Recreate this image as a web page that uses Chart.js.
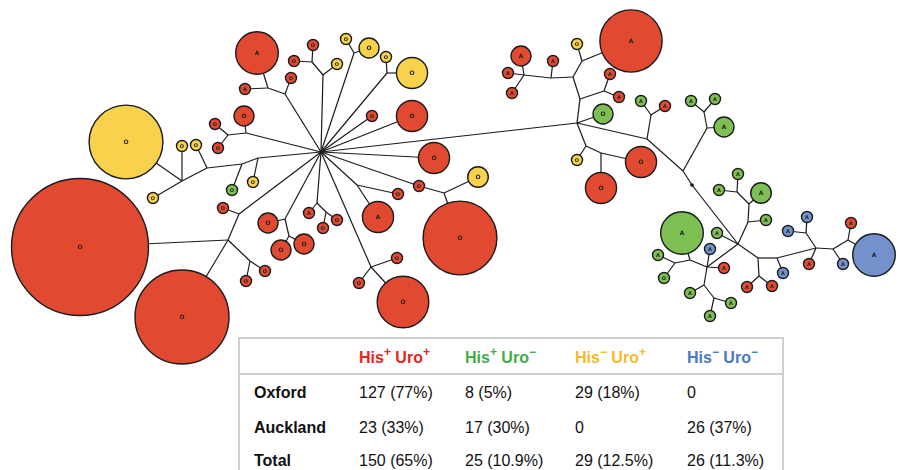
<!DOCTYPE html>
<html>
<head>
<meta charset="utf-8">
<script src="https://cdn.jsdelivr.net/npm/chart.js@4/dist/chart.umd.min.js"></script>
<style>
  body { margin: 0; background: #fff; }
  #wrap { position: absolute; left: 0; top: 0; width: 899px; height: 470px; overflow: hidden; }
  #chartBox { position: absolute; left: 0; top: 0; width: 899px; height: 470px; }
  #tbl { position: absolute; left: 238px; top: 337px; width: 542px; height: 140px;
         border: 2px solid #cfcfcf; border-bottom: none; background: #fff;
         font-family: "Liberation Sans", Arial, sans-serif; font-size: 16px; color: #111; }
  #tbl .sep { position: absolute; left: 0; right: 0; top: 34px; height: 0; border-top: 2px solid #cfcfcf; }
  #tbl .cell { position: absolute; white-space: nowrap; line-height: 20px; }
  #tbl .lab, #tbl .head { font-weight: bold; }
  #tbl sup { font-size: 12px; line-height: 0; position: relative; top: -1px; }
</style>
</head>
<body>
<div id="wrap">
  <div id="chartBox"><canvas id="treeChart"></canvas></div>
  <div id="tbl"></div>
</div>
<script>
// phenotype groups: 0 His+Uro+, 1 His+Uro-, 2 His-Uro+, 3 His-Uro-
const groupColors = ['#e14a30', '#7dbf52', '#f8d24c', '#7392cc'];

// nodes: [id, x, y, weight, group, label]  (layout units of the spanning tree)
const leftNodes = [
  ['L1', 257, 53, 15, 0, 'A'], ['L2', 245, 89, 1, 0, 'A'], ['L3', 291, 78, 1, 0, 'O'],
  ['L4', 313, 45, 1, 0, 'O'], ['L5', 294, 61, 1, 0, 'O'], ['L6', 337, 64, 1, 2, 'O'],
  ['L7', 346, 39, 1, 2, 'O'], ['L8', 369, 48, 3.3, 2, 'O'], ['L9', 386, 57, 1, 2, 'O'],
  ['L10', 412, 73, 8, 2, 'O'], ['L11', 372, 116, 1, 0, 'O'], ['L12', 412, 116, 8, 0, 'O'],
  ['L13', 434, 158, 8, 0, 'O'], ['L14', 419, 186, 1, 0, 'O'], ['L15', 460, 238, 45, 0, 'O'],
  ['L16', 478, 177, 3.5, 2, 'O'], ['L17', 398, 194, 1, 0, 'O'], ['L18', 378, 217, 8, 0, 'A'],
  ['L19', 309, 213, 1, 0, 'A'], ['L20', 323, 228, 1, 0, 'O'], ['L21', 337, 220, 1, 0, 'O'],
  ['L22', 268, 223, 3.3, 0, 'O'], ['L23', 281, 250, 3.3, 0, 'O'], ['L24', 304, 244, 3.3, 0, 'O'],
  ['L25', 397, 258, 1, 0, 'O'], ['L26', 359, 283, 1, 0, 'O'], ['L27', 403, 302, 22, 0, 'O'],
  ['L28', 244, 116, 3.3, 0, 'O'], ['L29', 215, 124, 1, 0, 'O'], ['L30', 218, 148, 1, 0, 'O'],
  ['L31', 253, 182, 1, 2, 'O'], ['L32', 232, 190, 1, 1, 'O'], ['L33', 196, 145, 1, 2, 'O'],
  ['L34', 182, 146, 1, 2, 'O'], ['L35', 126, 142, 45, 2, 'O'], ['L36', 153, 198, 1, 2, 'O'],
  ['L37', 223, 208, 1, 0, 'O'], ['L38', 80, 247, 155, 0, 'O'], ['L39', 246, 281, 1, 0, 'O'],
  ['L40', 265, 271, 1, 0, 'O'], ['L41', 182, 317, 73, 0, 'O']
];

const rightNodes = [
  ['R1', 631, 41, 32, 0, 'A'], ['R2', 577, 44, 1, 2, 'O'], ['R3', 553, 61, 1, 0, 'A'],
  ['R4', 521, 56, 3.3, 0, 'A'], ['R5', 508, 73, 1, 0, 'A'], ['R6', 512, 93, 1, 0, 'A'],
  ['R7', 610, 74, 1, 0, 'A'], ['R8', 619, 97, 1, 0, 'A'], ['R9', 603, 114, 3.3, 1, 'O'],
  ['R10', 577, 160, 1, 2, 'O'], ['R11', 641, 162, 8, 0, 'O'], ['R12', 601, 188, 8, 0, 'O'],
  ['R13', 641, 101, 1, 1, 'A'], ['R14', 665, 106, 1, 0, 'A'], ['R15', 724, 127, 3.3, 1, 'A'],
  ['R16', 691, 101, 1, 1, 'A'], ['R17', 715, 99, 1, 1, 'A'], ['R18', 766, 220, 1, 1, 'A'],
  ['R19', 761, 193, 3.5, 1, 'A'], ['R20', 719, 190, 1, 1, 'A'], ['R21', 738, 174, 1, 1, 'A'],
  ['R22', 717, 233, 1, 1, 'A'], ['R23', 710, 249, 1, 3, 'A'], ['R24', 724, 268, 1, 0, 'A'],
  ['R25', 682, 233, 15, 1, 'A'], ['R26', 658, 255, 1, 1, 'A'], ['R27', 664, 278, 1, 1, 'O'],
  ['R28', 690, 293, 1, 1, 'A'], ['R29', 731, 303, 1, 1, 'A'], ['R30', 710, 316, 1, 1, 'A'],
  ['R31', 747, 287, 1, 0, 'A'], ['R32', 772, 286, 1, 0, 'A'], ['R33', 783, 273, 1, 3, 'A'],
  ['R34', 788, 231, 1, 3, 'A'], ['R35', 807, 217, 1, 3, 'A'], ['R36', 809, 264, 1, 0, 'A'],
  ['R37', 843, 264, 1, 3, 'A'], ['R38', 851, 223, 1, 0, 'A'], ['R39', 874, 255, 15, 3, 'A']
];

// branch points of the tree: [id, x, y]
const junctions = [
  ['hub', 321, 152], ['j1', 268, 88], ['j2', 285, 94], ['j3', 312, 62], ['j4', 323, 75],
  ['j5', 354, 53], ['j6', 387, 73], ['j7', 444, 193], ['j8', 357, 185], ['j9', 317, 203],
  ['j10', 326, 212], ['j11', 285, 219], ['j12', 289, 236], ['j13', 371, 267], ['j14', 246, 133],
  ['j15', 228, 135], ['j16', 258, 158], ['j17', 242, 164], ['j18', 207, 168], ['j19', 182, 181],
  ['j20', 239, 214], ['j21', 228, 240], ['j22', 250, 261],
  ['r0', 577, 123], ['k1', 582, 61], ['k2', 573, 77], ['k3', 551, 78], ['k4', 524, 75],
  ['k5', 580, 99], ['k6', 604, 91], ['k7', 586, 146], ['k8', 601, 153], ['k9', 647, 139],
  ['k10', 651, 115], ['k11', 683, 171], ['k12', 707, 128], ['k13', 704, 112], ['dot', 692, 185],
  ['q', 738, 244], ['k14', 748, 222], ['k15', 749, 204], ['k20', 737, 192], ['k16', 707, 267],
  ['k17', 690, 260], ['k21', 675, 263], ['k19', 704, 285], ['k22', 714, 298], ['k18', 758, 258],
  ['k23', 759, 276], ['k24', 777, 258], ['k25', 816, 248], ['k26', 806, 233], ['k27', 833, 249],
  ['k28', 848, 240]
];

const edges = [
  ['L1', 'j1'], ['L2', 'j1'], ['j1', 'j2'], ['L3', 'j2'], ['j2', 'hub'],
  ['L4', 'j3'], ['L5', 'j3'], ['j3', 'j4'], ['L6', 'j4'], ['j4', 'hub'],
  ['L7', 'j5'], ['L8', 'j5'], ['j5', 'hub'], ['L9', 'j6'], ['L10', 'j6'], ['j6', 'hub'],
  ['hub', 'L11'], ['hub', 'L12'], ['hub', 'L13'], ['hub', 'L14'],
  ['L14', 'j7'], ['j7', 'L15'], ['j7', 'L16'], ['hub', 'r0'],
  ['hub', 'j8'], ['j8', 'L17'], ['j8', 'L18'],
  ['hub', 'j9'], ['j9', 'L19'], ['j9', 'j10'], ['j10', 'L20'], ['j10', 'L21'],
  ['hub', 'j11'], ['j11', 'L22'], ['j11', 'j12'], ['j12', 'L23'], ['j12', 'L24'],
  ['hub', 'j13'], ['j13', 'L25'], ['j13', 'L26'], ['j13', 'L27'],
  ['hub', 'j14'], ['j14', 'L28'], ['j14', 'j15'], ['j15', 'L29'], ['j15', 'L30'],
  ['hub', 'j16'], ['j16', 'L31'], ['j16', 'j17'], ['j17', 'L32'], ['j17', 'j18'],
  ['j18', 'L33'], ['j18', 'j19'], ['j19', 'L34'], ['j19', 'L35'], ['j19', 'L36'],
  ['hub', 'j20'], ['j20', 'L37'], ['j20', 'j21'], ['j21', 'L38'], ['j21', 'L41'],
  ['j21', 'j22'], ['j22', 'L39'], ['j22', 'L40'],
  ['r0', 'k5'], ['k5', 'k2'], ['k5', 'k6'], ['k6', 'R7'], ['k6', 'R8'],
  ['k2', 'k1'], ['k1', 'R2'], ['k1', 'R1'], ['k2', 'k3'], ['k3', 'R3'], ['k3', 'k4'],
  ['k4', 'R4'], ['k4', 'R5'], ['k4', 'R6'],
  ['r0', 'R9'], ['r0', 'k7'], ['k7', 'R10'], ['k7', 'k8'], ['k8', 'R11'], ['k8', 'R12'],
  ['r0', 'k9'], ['k9', 'k10'], ['k10', 'R13'], ['k10', 'R14'], ['k9', 'k11'],
  ['k11', 'k12'], ['k12', 'R15'], ['k12', 'k13'], ['k13', 'R16'], ['k13', 'R17'],
  ['k11', 'dot'], ['dot', 'q'],
  ['q', 'k14'], ['k14', 'R18'], ['k14', 'k15'], ['k15', 'R19'], ['k15', 'k20'],
  ['k20', 'R20'], ['k20', 'R21'], ['q', 'R22'],
  ['q', 'k16'], ['k16', 'R23'], ['k16', 'R24'], ['k16', 'k17'], ['k17', 'R25'],
  ['k17', 'k21'], ['k21', 'R26'], ['k21', 'R27'], ['k16', 'k19'], ['k19', 'R28'],
  ['k19', 'k22'], ['k22', 'R29'], ['k22', 'R30'],
  ['q', 'k18'], ['k18', 'k23'], ['k23', 'R31'], ['k23', 'R32'], ['k18', 'k24'],
  ['k24', 'R33'], ['k24', 'k25'], ['k25', 'k26'], ['k26', 'R34'], ['k26', 'R35'],
  ['k25', 'R36'], ['k25', 'k27'], ['k27', 'R37'], ['k27', 'k28'], ['k28', 'R38'], ['k28', 'R39']
];

const markers = ['dot'];

// table
const headerSigns = [['+', '+'], ['+', '\u2212'], ['\u2212', '+'], ['\u2212', '\u2212']];
const headerColors = ['#e8231d', '#3fae47', '#f7b82d', '#4a78c2'];
const rowLabels = ['Oxford', 'Auckland', 'Total'];
const oxfordValues = ['127 (77%)', '8 (5%)', '29 (18%)', '0'];
const aucklandValues = ['23 (33%)', '17 (30%)', '0', '26 (37%)'];
const totalValues = ['150 (65%)', '25 (10.9%)', '29 (12.5%)', '26 (11.3%)'];

function buildTable() {
    const tbl = document.getElementById('tbl');
    const colX = [14, 119, 225, 335, 447];
    const rowY = [44, 79, 112];
    let html = '<div class="sep"></div>';
    headerSigns.forEach((s, i) => {
        html += `<div class="cell head" style="left:${colX[i + 1]}px;top:9px;color:${headerColors[i]}">` +
            `His<sup>${s[0]}</sup> Uro<sup>${s[1]}</sup></div>`;
    });
    const rows = [oxfordValues, aucklandValues, totalValues];
    rows.forEach((vals, r) => {
        html += `<div class="cell lab" style="left:${colX[0]}px;top:${rowY[r]}px">${rowLabels[r]}</div>`;
        vals.forEach((v, c) => {
            html += `<div class="cell" style="left:${colX[c + 1]}px;top:${rowY[r]}px">${v}</div>`;
        });
    });
    tbl.innerHTML = html;
}

function drawTree() {
    const nodes = leftNodes.concat(rightNodes);
    const pos = {};
    nodes.forEach(n => { pos[n[0]] = {x: n[1], y: n[2]}; });
    junctions.forEach(j => { pos[j[0]] = {x: j[1], y: j[2]}; });

    const radius = w => 5.5 * Math.sqrt(w);

    const datasets = [];
    datasets.push({
        type: 'bubble',
        data: nodes.map(n => ({x: n[1], y: n[2], r: radius(n[3])})),
        backgroundColor: nodes.map(n => groupColors[n[4]]),
        borderColor: '#1b1b1b',
        borderWidth: 1.4,
        hoverRadius: 0,
        clip: false,
        order: 0
    });
    datasets.push({
        type: 'scatter',
        data: markers.map(id => pos[id]),
        pointRadius: 1.8,
        backgroundColor: '#111',
        borderWidth: 0,
        clip: false,
        order: 1
    });
    edges.forEach(e => {
        datasets.push({
            type: 'line',
            data: [pos[e[0]], pos[e[1]]],
            borderColor: '#1b1b1b',
            borderWidth: 1.2,
            pointRadius: 0,
            fill: false,
            tension: 0,
            clip: false,
            order: 2
        });
    });

    const nodeLabels = {
        id: 'nodeLabels',
        afterDatasetsDraw(chart) {
            const ctx = chart.ctx;
            const meta = chart.getDatasetMeta(0);
            ctx.save();
            ctx.fillStyle = '#222';
            ctx.textAlign = 'center';
            ctx.textBaseline = 'middle';
            meta.data.forEach((pt, i) => {
                const big = nodes[i][3] > 2;
                ctx.font = (big ? 'bold 6px' : 'bold 5px') + ' "DejaVu Sans", sans-serif';
                ctx.fillText(nodes[i][5], pt.x, pt.y + 0.5);
            });
            ctx.restore();
        }
    };

    const ctx = document.getElementById('treeChart').getContext('2d');
    new Chart(ctx, {
        type: 'bubble',
        data: {datasets: datasets},
        options: {
            responsive: true,
            maintainAspectRatio: false,
            animation: false,
            events: [],
            layout: {padding: 0, autoPadding: false},
            scales: {
                x: {type: 'linear', min: 0, max: 899, display: false},
                y: {type: 'linear', min: 0, max: 470, reverse: true, display: false}
            },
            plugins: {
                legend: {display: false},
                tooltip: {enabled: false}
            }
        },
        plugins: [nodeLabels]
    });
}

buildTable();
drawTree();
</script>
</body>
</html>
